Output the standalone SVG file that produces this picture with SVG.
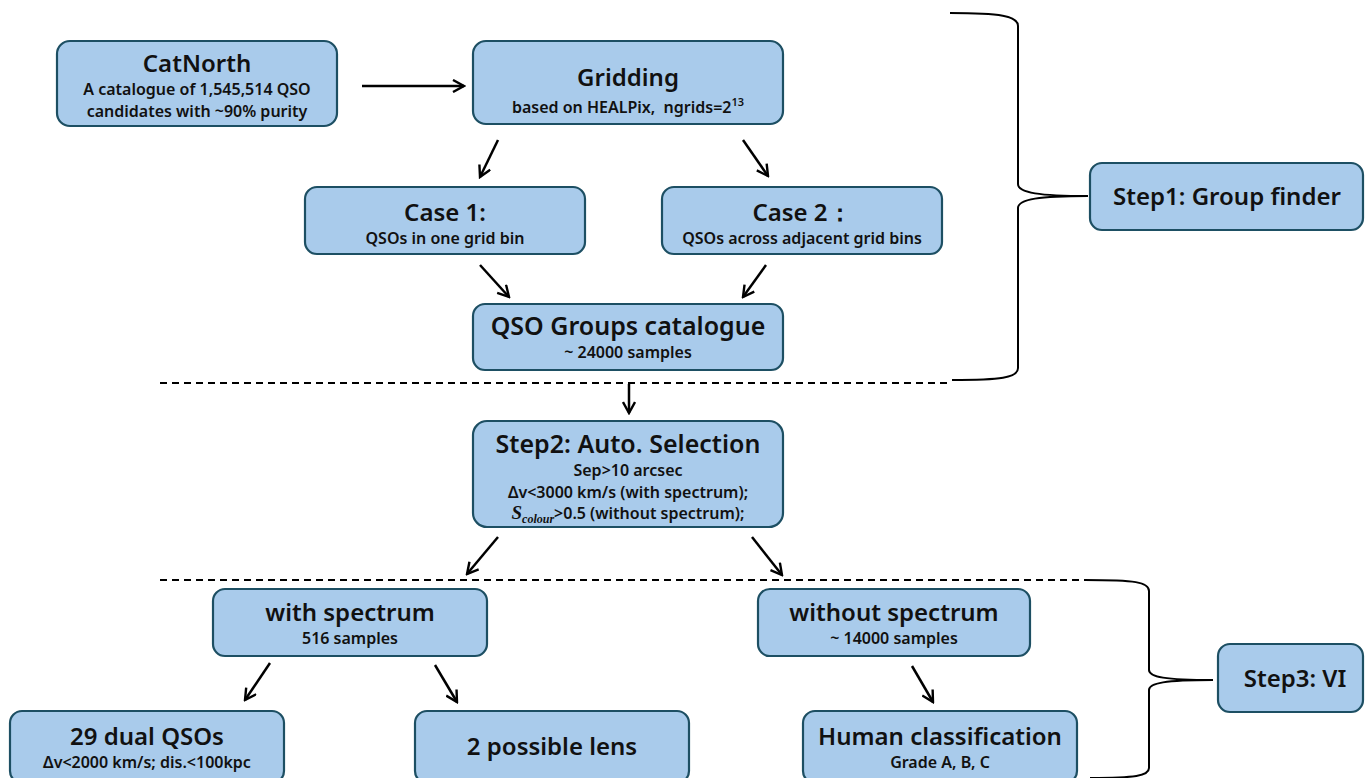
<svg xmlns="http://www.w3.org/2000/svg" width="1365" height="778" viewBox="0 0 1365 778">
<defs>
<style>
.box{fill:#a9cbeb;stroke:#1d4f63;stroke-width:2.2}
text{font-family:"Noto Sans","Open Sans","Liberation Sans",sans-serif;fill:#111;text-anchor:middle}
.t{font-size:24px;font-weight:600}
.tl{font-size:25px;font-weight:600}
.s{font-size:16px;font-weight:600}
.arr{stroke:#000;stroke-width:2.5;fill:none;marker-end:url(#ah)}
.dash{stroke:#000;stroke-width:2;fill:none;stroke-dasharray:7,5}
.brace{stroke:#000;stroke-width:2;fill:none}
</style>
<marker id="ah" viewBox="0 0 14 14" refX="12" refY="7" markerWidth="14" markerHeight="14" markerUnits="userSpaceOnUse" orient="auto">
<path d="M1,1 L12,7 L1,13" fill="none" stroke="#000" stroke-width="2.4"/>
</marker>
</defs>
<rect width="1365" height="778" fill="#fff"/>

<g id="connectors">
<line class="arr" x1="362" y1="86" x2="464" y2="86"/>
<line class="arr" x1="498" y1="140" x2="480" y2="177"/>
<line class="arr" x1="743" y1="140" x2="768" y2="176"/>
<line class="arr" x1="480" y1="265" x2="509" y2="297"/>
<line class="arr" x1="766" y1="265" x2="743" y2="297"/>
<line class="arr" x1="629" y1="384" x2="629" y2="413"/>
<line class="arr" x1="498" y1="537" x2="467" y2="574"/>
<line class="arr" x1="752" y1="537" x2="782" y2="575"/>
<line class="arr" x1="270" y1="663" x2="245" y2="700"/>
<line class="arr" x1="435" y1="665" x2="457" y2="702"/>
<line class="arr" x1="912" y1="666" x2="933" y2="702"/>
<line class="dash" x1="160" y1="383" x2="950" y2="383"/>
<line class="dash" x1="160" y1="580" x2="1085" y2="580"/>
<path class="brace" d="M950,13 C1000,13 1018,16 1018,26 L1018,184 C1018,193 1040,196 1088,196 C1040,196 1018,199 1018,208 L1018,368 C1018,378 1000,380 952,380"/>
<path class="brace" d="M1085,580 C1135,580 1149,582 1149,591 L1149,670 C1149,677 1165,680 1213,680 C1165,680 1149,683 1149,690 L1149,768 C1149,776 1135,778 1090,778"/>
</g>

<g id="catnorth">
<rect class="box" x="57" y="41" width="280" height="85" rx="13"/>
<text class="t" x="197" y="72">CatNorth</text>
<text class="s" x="197" y="95">A catalogue of 1,545,514 QSO</text>
<text class="s" x="197" y="117">candidates with ~90% purity</text>
</g>
<g id="gridding">
<rect class="box" x="473" y="41" width="310" height="83" rx="13"/>
<text class="t" x="628" y="86">Gridding</text>
<text class="s" x="628" y="113">based on HEALPix,&#160; ngrids=2<tspan font-size="11" dy="-7">13</tspan></text>
</g>
<g id="case1">
<rect class="box" x="305" y="187" width="280" height="67" rx="12"/>
<text class="t" x="445" y="221">Case 1:</text>
<text class="s" x="445" y="244">QSOs in one grid bin</text>
</g>
<g id="case2">
<rect class="box" x="662" y="187" width="280" height="67" rx="12"/>
<text class="t" x="802" y="221">Case 2：</text>
<text class="s" x="802" y="244">QSOs across adjacent grid bins</text>
</g>
<g id="groups">
<rect class="box" x="473" y="304" width="310" height="66" rx="12"/>
<text class="tl" x="628" y="335">QSO Groups catalogue</text>
<text class="s" x="628" y="358">~ 24000 samples</text>
</g>
<g id="step1">
<rect class="box" x="1090" y="163" width="273" height="67" rx="12"/>
<text class="t" x="1227" y="205">Step1: Group finder</text>
</g>
<g id="step2">
<rect class="box" x="473" y="421" width="310" height="106" rx="14"/>
<text class="tl" x="628" y="453">Step2: Auto. Selection</text>
<text class="s" x="628" y="476">Sep&gt;10 arcsec</text>
<text class="s" x="628" y="498">Δv&lt;3000 km/s (with spectrum);</text>
<text class="s" x="628" y="519"><tspan font-family="Liberation Serif,serif" font-style="italic" font-size="19" font-weight="700">S</tspan><tspan font-family="Liberation Serif,serif" font-style="italic" font-size="12" font-weight="700" dy="4">colour</tspan><tspan dy="-4">&gt;0.5 (without spectrum);</tspan></text>
</g>
<g id="withspec">
<rect class="box" x="213" y="589" width="274" height="67" rx="12"/>
<text class="t" x="350" y="621">with spectrum</text>
<text class="s" x="350" y="644">516 samples</text>
</g>
<g id="withoutspec">
<rect class="box" x="758" y="589" width="272" height="67" rx="12"/>
<text class="t" x="894" y="621">without spectrum</text>
<text class="s" x="894" y="644">~ 14000 samples</text>
</g>
<g id="step3">
<rect class="box" x="1218" y="644" width="145" height="68" rx="12"/>
<text class="t" x="1295" y="687">Step3: VI</text>
</g>
<g id="dual">
<rect class="box" x="10" y="711" width="274" height="72" rx="12"/>
<text class="t" x="147" y="745">29 dual QSOs</text>
<text class="s" x="147" y="768">Δv&lt;2000 km/s; dis.&lt;100kpc</text>
</g>
<g id="lens">
<rect class="box" x="415" y="711" width="274" height="72" rx="12"/>
<text class="t" x="552" y="755">2 possible lens</text>
</g>
<g id="human">
<rect class="box" x="803" y="711" width="274" height="72" rx="12"/>
<text class="t" x="940" y="745">Human classification</text>
<text class="s" x="940" y="768">Grade A, B, C</text>
</g>
</svg>
